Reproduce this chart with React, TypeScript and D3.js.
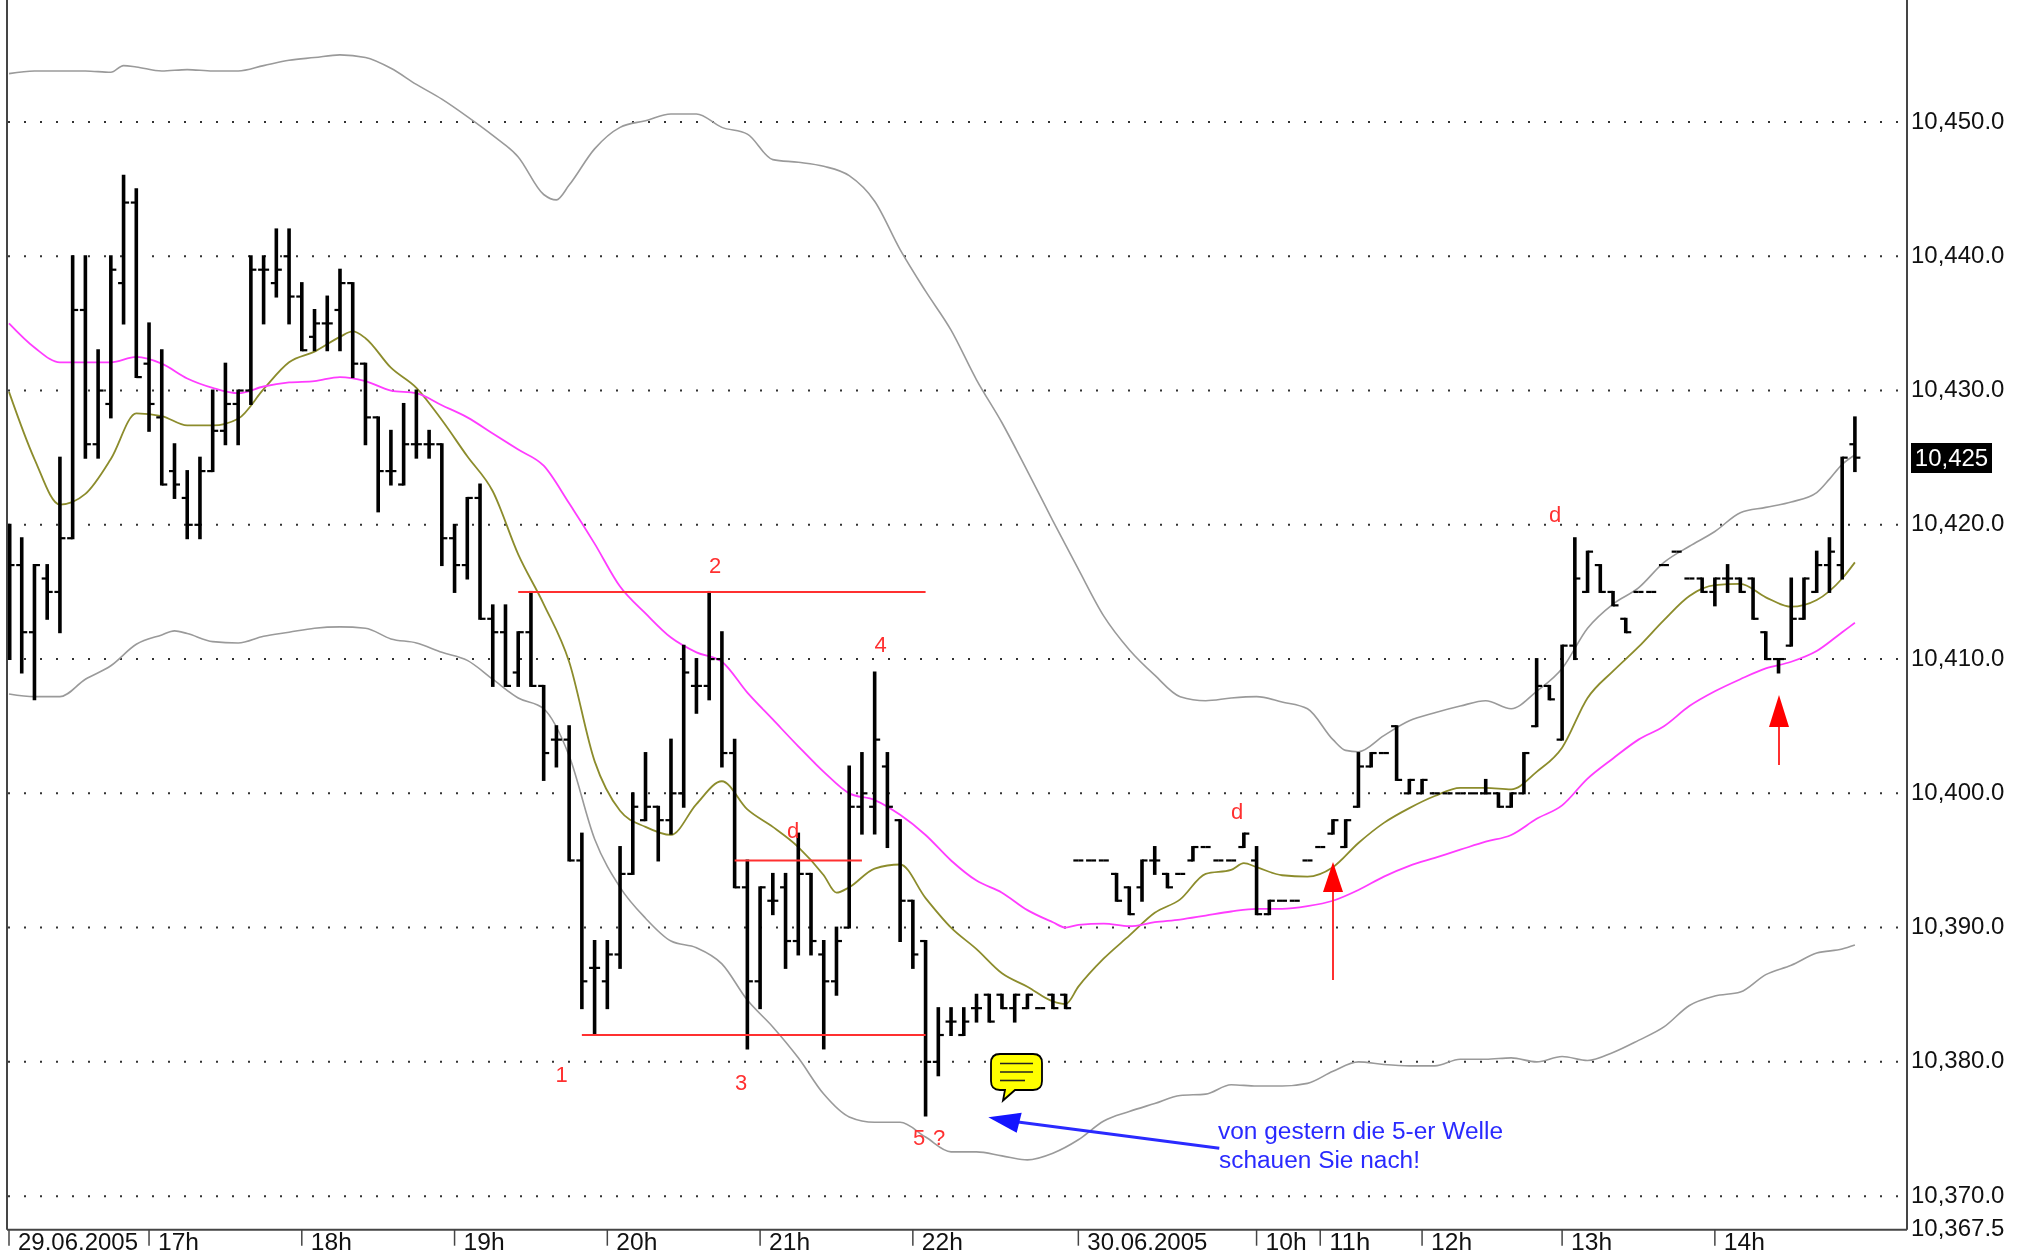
import React from "react";
import * as d3 from "d3";

const WIDTH = 2028;
const HEIGHT = 1255;

const opens = [10415,10417,10412,10416,10415,10419,10436,10426,10429,10438,10444,10432,10428,10424,10422,10420,10424,10427,10429,10430,10439,10438,10440,10437,10434,10435,10436,10438,10432,10428,10424,10423,10426,10426,10426,10419,10417,10422,10413,10412,10409,10412,10408,10404,10404,10395,10387,10386,10388,10394,10398,10399,10398,10400,10408,10408,10410,10403,10393,10386,10392,10393,10389,10394,10388,10386,10390,10399,10399,10402,10398,10392,10389,10380,10383,10382,10384,10385,10385,10384,10384,10384,10385,10385,10395,10395,10395,10394,10393,10393,10395,10394,10394,10395,10396,10395,10395,10396,10395,10391,10392,10392,10395,10396,10397,10396,10399,10402,10403,10405,10400,10400,10400,10400,10400,10400,10400,10400,10399,10400,10405,10408,10404,10411,10415,10417,10415,10413,10415,10415,10417,10418,10416,10416,10415,10416,10416,10416,10412,10410,10411,10413,10415,10417,10417,10426];
const highs = [10420,10419,10417,10417,10425,10440,10440,10433,10440,10446,10445,10435,10433,10426,10424,10425,10430,10432,10430,10440,10440,10442,10442,10438,10436,10437,10439,10438,10432,10428,10427,10429,10430,10427,10426,10420,10422,10423,10414,10414,10412,10415,10408,10405,10405,10397,10389,10389,10396,10400,10403,10399,10404,10411,10410,10415,10412,10404,10395,10393,10394,10394,10397,10394,10389,10390,10402,10403,10409,10403,10398,10392,10389,10384,10384,10384,10385,10385,10385,10385,10385,10384,10385,10385,10395,10395,10395,10394,10393,10395,10396,10394,10394,10396,10396,10395,10395,10397,10396,10392,10392,10392,10395,10396,10398,10398,10403,10403,10403,10405,10401,10401,10400,10400,10400,10400,10401,10400,10400,10403,10410,10408,10411,10419,10418,10417,10415,10413,10415,10415,10417,10418,10416,10416,10416,10417,10416,10416,10412,10410,10416,10416,10418,10419,10425,10428];
const lows = [10410,10409,10407,10413,10412,10419,10425,10425,10428,10435,10431,10427,10423,10422,10419,10419,10424,10426,10426,10429,10435,10437,10435,10433,10433,10433,10433,10431,10426,10421,10423,10423,10425,10425,10417,10415,10416,10413,10408,10408,10408,10408,10401,10402,10395,10384,10382,10384,10387,10394,10398,10395,10397,10399,10406,10407,10402,10393,10381,10384,10391,10387,10388,10388,10381,10385,10390,10397,10397,10396,10389,10387,10376,10379,10382,10382,10383,10383,10384,10383,10384,10384,10384,10384,10395,10395,10395,10392,10391,10392,10394,10393,10394,10395,10396,10395,10395,10396,10391,10391,10392,10392,10395,10396,10397,10396,10399,10402,10403,10401,10400,10400,10400,10400,10400,10400,10400,10399,10399,10400,10405,10407,10404,10410,10415,10415,10414,10412,10415,10415,10417,10418,10416,10415,10414,10415,10415,10413,10410,10409,10411,10413,10415,10415,10416,10424];
const closes = [10417,10412,10417,10415,10419,10436,10426,10430,10439,10444,10431,10429,10423,10423,10420,10424,10427,10429,10430,10439,10439,10439,10437,10433,10435,10435,10438,10432,10428,10424,10424,10426,10426,10426,10419,10417,10422,10413,10412,10408,10412,10408,10403,10404,10395,10386,10387,10388,10394,10399,10399,10398,10400,10409,10408,10410,10403,10393,10386,10393,10392,10389,10394,10389,10386,10389,10399,10400,10404,10399,10392,10388,10380,10382,10383,10383,10384,10383,10384,10385,10385,10384,10384,10384,10395,10395,10395,10392,10391,10395,10395,10393,10394,10396,10396,10395,10395,10397,10391,10392,10392,10392,10395,10396,10398,10398,10402,10403,10403,10401,10401,10401,10400,10400,10400,10400,10400,10399,10400,10403,10408,10407,10411,10416,10418,10415,10414,10412,10415,10415,10417,10418,10416,10415,10416,10416,10415,10413,10410,10410,10413,10416,10417,10418,10425,10425];

const oliveLine: number[][] = [[0,10429.9],[2,10424.9],[4,10421.5],[6,10422.3],[8,10424.9],[10,10428.3],[12,10428.1],[14,10427.4],[16,10427.4],[18,10427.9],[20,10430.1],[22,10432.1],[24,10432.9],[26,10434],[27,10434.4],[28,10433.9],[30,10431.7],[32,10430.2],[34,10427.8],[36,10425.1],[38,10422.5],[40,10417.8],[42,10414.1],[44,10409.8],[46,10402.4],[48,10398.7],[50,10397.5],[52,10396.9],[54,10399.2],[56,10400.9],[58,10398.8],[60,10397.5],[62,10396],[64,10393.9],[65,10392.6],[66,10393],[68,10394.4],[70,10394.7],[72,10392.2],[74,10390],[76,10388.4],[78,10386.6],[80,10385.6],[82,10384.5],[83,10384.3],[84,10385.6],[86,10387.7],[88,10389.4],[90,10391.1],[92,10392.1],[94,10394],[96,10394.3],[97,10394.8],[98,10394.5],[100,10393.9],[102,10393.8],[104,10394.5],[106,10396.3],[108,10397.8],[110,10398.9],[112,10399.8],[114,10400.4],[116,10400.4],[118,10400.3],[120,10401.6],[122,10403.4],[124,10407.1],[126,10409.1],[128,10410.9],[130,10412.9],[132,10414.7],[134,10415.5],[136,10415.6],[138,10414.6],[140,10413.9],[142,10414.4],[144,10416],[145,10417.2]];
const magentaLine: number[][] = [[0,10435],[2,10433.2],[4,10432.1],[6,10432.1],[8,10432.1],[10,10432.5],[12,10432],[14,10430.9],[16,10430.2],[18,10429.8],[20,10430.3],[22,10430.6],[24,10430.7],[26,10431],[28,10430.7],[30,10430],[32,10429.8],[34,10428.9],[36,10428],[38,10426.8],[40,10425.6],[42,10424.4],[44,10421.6],[46,10418.6],[48,10415.4],[50,10413.4],[52,10411.6],[54,10410.5],[56,10409.8],[58,10407.5],[60,10405.5],[62,10403.5],[64,10401.6],[66,10400],[68,10399.5],[70,10398.4],[72,10396.9],[74,10395],[76,10393.5],[78,10392.6],[80,10391.3],[82,10390.4],[83,10390],[84,10390.2],[86,10390.3],[88,10390.1],[90,10390.4],[92,10390.6],[94,10390.9],[96,10391.2],[98,10391.4],[100,10391.4],[102,10391.6],[104,10392],[106,10392.8],[108,10393.8],[110,10394.6],[112,10395.2],[114,10395.8],[116,10396.4],[118,10396.9],[120,10398.1],[122,10399.1],[124,10401.1],[126,10402.6],[128,10404],[130,10405],[132,10406.5],[134,10407.6],[136,10408.5],[138,10409.3],[140,10409.8],[142,10410.6],[144,10412],[145,10412.7]];
const upperBand: number[][] = [[0,10453.6],[2,10453.8],[4,10453.8],[6,10453.8],[8,10453.7],[9,10454.2],[10,10454.1],[12,10453.8],[14,10453.9],[16,10453.8],[18,10453.8],[20,10454.2],[22,10454.6],[24,10454.8],[26,10455],[28,10454.8],[30,10454],[32,10452.8],[34,10451.7],[36,10450.4],[38,10449],[40,10447.4],[42,10444.6],[43,10444.2],[44,10445.3],[46,10448],[48,10449.6],[50,10450.1],[52,10450.6],[54,10450.6],[56,10449.6],[58,10449.1],[60,10447.2],[62,10447],[64,10446.7],[66,10446],[68,10444.1],[70,10440.5],[72,10437.4],[74,10434.5],[76,10430.8],[78,10427.6],[80,10424],[82,10420.3],[84,10416.7],[86,10413.2],[88,10410.7],[90,10408.8],[92,10407.2],[94,10406.9],[96,10407.1],[98,10407.2],[100,10406.8],[102,10406.3],[104,10404],[105,10403.2],[106,10403.1],[108,10404.3],[110,10405.4],[112,10406],[114,10406.5],[116,10406.9],[118,10406.3],[120,10407.6],[122,10409.3],[124,10412.3],[126,10414.1],[128,10415.3],[130,10417.2],[132,10418.4],[134,10419.5],[136,10420.9],[138,10421.3],[140,10421.7],[142,10422.4],[143,10423.4],[144,10424.5],[145,10425.2]];
const lowerBand: number[][] = [[0,10407.4],[2,10407.2],[4,10407.2],[6,10408.5],[8,10409.5],[10,10411.1],[12,10411.8],[13,10412.1],[14,10411.9],[16,10411.3],[18,10411.2],[20,10411.7],[22,10412],[24,10412.3],[26,10412.4],[28,10412.3],[30,10411.5],[32,10411.2],[34,10410.5],[36,10409.9],[38,10408.5],[40,10407.1],[42,10406.3],[44,10402.8],[46,10396.6],[48,10393],[50,10390.7],[52,10389],[54,10388.5],[56,10387.3],[58,10384.6],[60,10382.6],[62,10380.3],[64,10377.6],[66,10375.9],[68,10375.5],[70,10375.5],[72,10374.4],[74,10373.3],[76,10373.3],[78,10373],[80,10372.7],[82,10373.2],[84,10374.2],[86,10375.6],[88,10376.3],[90,10376.9],[92,10377.5],[94,10377.6],[96,10378.3],[98,10378.2],[100,10378.2],[102,10378.4],[104,10379.3],[106,10380],[108,10379.8],[110,10379.7],[112,10379.7],[114,10380.2],[116,10380.2],[118,10380.3],[120,10380],[122,10380.4],[124,10380.1],[126,10380.7],[128,10381.6],[130,10382.6],[132,10384.2],[134,10384.9],[136,10385.2],[138,10386.5],[140,10387.2],[142,10388.1],[144,10388.4],[145,10388.7]];

const gridValues = [10450,10440,10430,10420,10410,10400,10390,10380,10370];
const axisEndValue = 10367.5;
const lastPrice = 10425;
const timeTickIndices = [0,11,23,35,47,59,71,84,98,103,111,122,134];
const timeTickLabels = ["29.06.2005","17h","18h","19h","20h","21h","22h","30.06.2005","10h","11h","12h","13h","14h"];

const levelValues = [10415,10382,10395];
const levelStarts = [40,45,57];
const levelEnds = [72,72,67];

const waveLabels = ["1","2","3","4","d","5","?","d","d"];
const waveLabelX = [561.7,715,741,880.7,793,919,939,1237,1555];
const waveLabelY = [1074,565,1082,644,830,1137,1137,811,514];

const fmt = (v: number, digits: number) =>
  d3.format(`,.${digits}f`)(v);

const x = d3.scaleLinear().domain([0, 145]).range([9, 1854.9]);
const y = d3.scaleLinear().domain([axisEndValue, 10450]).range([1229.7, 122]);

const lineGen = d3.line<number[]>()
  .x((d) => x(d[0]))
  .y((d) => y(d[1]))
  .curve(d3.curveMonotoneX);

const LEFT = 7;
const RIGHT = 1907;
const BOTTOM = y(axisEndValue);
const FONT = '"Liberation Sans", Arial, sans-serif';
const RED = "#ff3030";
const BLUE = "#2a2aff";
const AXIS = "#454545";

function UpArrow({ cx, tip, base, tail }: { cx: number; tip: number; base: number; tail: number }) {
  return (
    <g>
      <line x1={cx} x2={cx} y1={base} y2={tail} stroke={RED} strokeWidth={2} />
      <polygon points={`${cx},${tip} ${cx - 10},${base} ${cx + 10},${base}`} fill="#ff0000" />
    </g>
  );
}

export default function App() {
  return (
    <svg
      width={WIDTH}
      height={HEIGHT}
      viewBox={`0 0 ${WIDTH} ${HEIGHT}`}
      style={{ position: "absolute", left: 0, top: 0, display: "block", background: "#fff", fontFamily: FONT, filter: "blur(0.4px)" }}
    >
      <rect width={WIDTH} height={HEIGHT} fill="#fff" />

      {gridValues.map((v) => (
        <line key={v} x1={8} x2={1902} y1={y(v)} y2={y(v)} stroke="#333" strokeWidth={2} strokeDasharray="2 14" />
      ))}

      <path d={lineGen(upperBand)!} fill="none" stroke="#9a9a9a" strokeWidth={1.6} />
      <path d={lineGen(lowerBand)!} fill="none" stroke="#9a9a9a" strokeWidth={1.6} />
      <path d={lineGen(oliveLine)!} fill="none" stroke="#8c8c2c" strokeWidth={1.8} />
      <path d={lineGen(magentaLine)!} fill="none" stroke="#ff3cff" strokeWidth={1.8} />

      <g stroke="#000">
        {opens.map((o, i) => {
          const cx = x(i);
          const flat = highs[i] === lows[i];
          const tick = flat ? 5 : 5.5;
          return (
            <g key={i}>
              {!flat && (
                <line x1={cx} x2={cx} y1={y(highs[i]) - 1} y2={y(lows[i]) + 1} strokeWidth={i === 0 ? 5 : 3.6} />
              )}
              {i > 0 && <line x1={cx - tick} x2={cx} y1={y(o)} y2={y(o)} strokeWidth={2.2} />}
              <line x1={cx} x2={cx + tick} y1={y(closes[i])} y2={y(closes[i])} strokeWidth={2.2} />
            </g>
          );
        })}
      </g>

      <g stroke={RED} strokeWidth={2}>
        {levelValues.map((v, i) => (
          <line key={i} x1={x(levelStarts[i])} x2={x(levelEnds[i])} y1={y(v)} y2={y(v)} />
        ))}
      </g>

      <g fill={RED} fontSize={22} textAnchor="middle" dominantBaseline="central">
        {waveLabels.map((t, i) => (
          <text key={i} x={waveLabelX[i]} y={waveLabelY[i]}>{t}</text>
        ))}
      </g>

      <UpArrow cx={1333} tip={862} base={892} tail={980} />
      <UpArrow cx={1779} tip={695} base={727} tail={765} />

      <g>
        <line x1={1219.3} y1={1148.3} x2={1018} y2={1122} stroke={BLUE} strokeWidth={3} />
        <polygon points="988.3,1117.3 1021.7,1112.7 1016.7,1132.7" fill="#1414ff" />
      </g>
      <g fill={BLUE} fontSize={23}>
        <text x={1218} y={1139} textLength={285} lengthAdjust="spacingAndGlyphs">von gestern die 5-er Welle</text>
        <text x={1219} y={1168} textLength={201} lengthAdjust="spacingAndGlyphs">schauen Sie nach!</text>
      </g>

      <g>
        <path
          d="M1000,1054 H1033 Q1042,1054 1042,1063 V1081 Q1042,1090 1033,1090 H1015 L1003,1100.5 L1005,1090 H1000 Q991,1090 991,1081 V1063 Q991,1054 1000,1054 Z"
          fill="#ffff00"
          stroke="#000"
          strokeWidth={1.8}
        />
        <g stroke="#222" strokeWidth={1.6}>
          <line x1={1000} x2={1033} y1={1063.5} y2={1063.5} />
          <line x1={1000} x2={1033} y1={1072} y2={1072} />
          <line x1={1000} x2={1025} y1={1080.5} y2={1080.5} />
        </g>
      </g>

      <line x1={LEFT} x2={LEFT} y1={0} y2={BOTTOM} stroke={AXIS} strokeWidth={2} />
      <line x1={RIGHT} x2={RIGHT} y1={0} y2={BOTTOM} stroke={AXIS} strokeWidth={2} />
      <line x1={LEFT} x2={RIGHT} y1={BOTTOM} y2={BOTTOM} stroke={AXIS} strokeWidth={2} />

      {timeTickIndices.map((t, i) => (
        <g key={t}>
          <line x1={x(t)} x2={x(t)} y1={BOTTOM} y2={BOTTOM + 16} stroke={AXIS} strokeWidth={1.5} />
          <text
            x={x(t) + 9}
            y={1250}
            fontSize={23}
            fill="#111"
            textLength={timeTickLabels[i].length > 3 ? 120 : 41}
            lengthAdjust="spacingAndGlyphs"
          >
            {timeTickLabels[i]}
          </text>
        </g>
      ))}

      {[...gridValues, axisEndValue].map((v) => (
        <text key={v} x={1911} y={y(v) - 2} fontSize={24} fill="#111" dominantBaseline="central">{fmt(v, 1)}</text>
      ))}

      <rect x={1911} y={443} width={81} height={30} fill="#000" />
      <text x={1951.5} y={y(lastPrice)} fontSize={24} fill="#fff" textAnchor="middle" dominantBaseline="central">{fmt(lastPrice, 0)}</text>
    </svg>
  );
}
